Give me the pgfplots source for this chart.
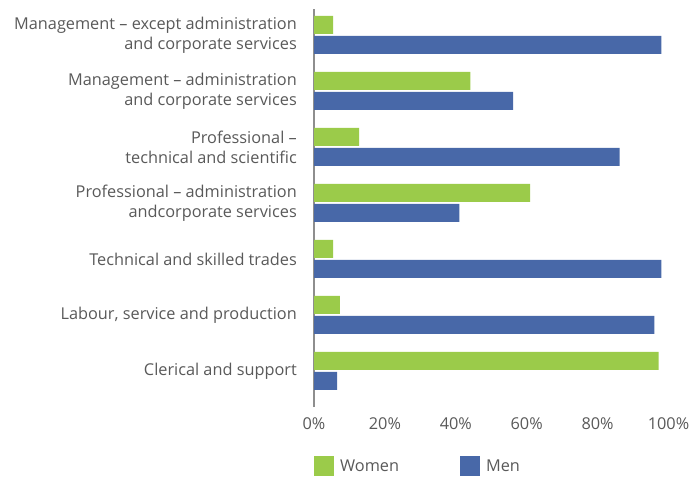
\documentclass[border=0pt]{standalone}
\usepackage{pgfplots}
\pgfplotsset{compat=1.18}
\usepackage{fontspec}
\setmainfont{Open Sans}
\definecolor{women}{HTML}{9BCB4A}
\definecolor{men}{HTML}{4868A8}
\definecolor{txt}{HTML}{595959}
\definecolor{axisgray}{HTML}{8E8E8E}
\begin{document}
\begin{tikzpicture}
\begin{axis}[
  at={(314pt,70pt)}, anchor=south west,
  scale only axis, width=354.5pt, height=398pt,
  xmin=0, xmax=100, ymin=-0.643, ymax=6.464,
  xbar, bar width=18pt,
  axis x line*=bottom, axis y line*=left,
  x axis line style={draw=none}, y axis line style={draw=axisgray, line width=1.4pt, -},
  major tick length=0pt, tick style={draw=none},
  xtick={0,20,40,60,80,100},
  xticklabels={0\%,20\%,40\%,60\%,80\%,100\%},
  ytick={0,1,2,3,4,5,6},
  yticklabels={{Clerical and support},{Labour, service and production},{Technical and skilled trades},{Professional -- administration\\andcorporate services},{Professional --\\technical and scientific},{Management -- administration\\and corporate services},{Management -- except administration\\and corporate services}},
  xticklabel style={inner sep=0pt, yshift=-10pt, font=\fontsize{16.3}{20}\selectfont, text=txt},
  yticklabel style={inner sep=0pt, xshift=-17pt, align=right, font=\fontsize{16.3}{20}\selectfont, text=txt},
  legend columns=2,
  legend style={at={(0,0)}, anchor=north west, yshift=-49pt, draw=none, inner sep=0pt,
    font=\fontsize{16.3}{20}\selectfont, text=txt,
    /tikz/every even column/.append style={column sep=61pt},
    nodes={inner sep=0pt, anchor=west}},
  legend image code/.code={\fill[#1,draw=none] (0pt,-10pt) rectangle (20pt,10pt);},
]
\addplot[fill=women, draw=none, bar shift=10pt] coordinates {(97.2,0) (7.3,1) (5.4,2) (61.0,3) (12.7,4) (44.1,5) (5.4,6)};
\addplot[fill=men, draw=none, bar shift=-10pt] coordinates {(6.5,0) (96.0,1) (98.0,2) (41.0,3) (86.2,4) (56.2,5) (98.0,6)};
\legend{\hspace{6pt}Women, \hspace{6pt}Men}
\end{axis}
\pgfresetboundingbox
\useasboundingbox (0,0) rectangle (693pt,477pt);
\end{tikzpicture}
\end{document}
